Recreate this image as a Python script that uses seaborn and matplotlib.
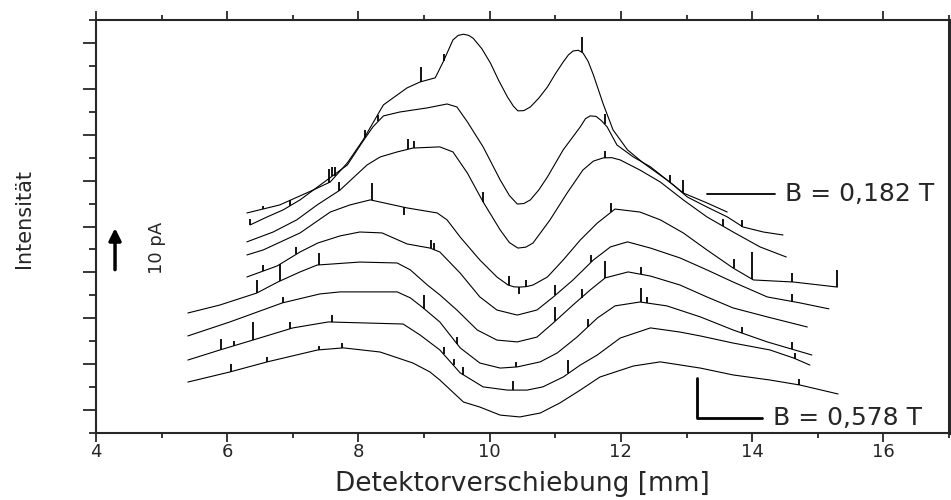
import numpy as np
import pandas as pd
import seaborn as sns
import matplotlib.pyplot as plt
from matplotlib.ticker import MultipleLocator

sns.set_style("ticks")
plt.rcParams['font.family'] = ['DejaVu Sans']

# detector scans, top (B = 0,182 T) to bottom (B = 0,578 T)
c1_x = [6.30, 6.80, 7.31, 7.57, 7.83, 8.07, 8.38, 8.74, 8.94, 9.17, 9.29, 9.44, 9.52, 9.60, 9.68, 9.75, 9.88, 10.01,
        10.14, 10.27, 10.36, 10.43, 10.52, 10.62, 10.75, 10.88, 11.00, 11.12, 11.20, 11.27, 11.35, 11.42, 11.50,
        11.58, 11.73, 11.88, 12.10, 12.34, 12.70, 12.95, 13.31, 13.62]
c1_y = [9.59, 9.94, 10.59, 10.94, 11.77, 12.77, 14.30, 15.04, 15.30, 15.48, 16.17, 17.13, 17.33, 17.38, 17.33, 17.20,
        16.75, 16.13, 15.35, 14.65, 14.25, 14.04, 14.05, 14.21, 14.60, 15.08, 15.65, 16.17, 16.48, 16.65, 16.68,
        16.57, 16.20, 15.61, 14.34, 13.21, 12.34, 11.77, 11.03, 10.46, 10.03, 9.63]

c2_x = [6.35, 6.61, 6.85, 7.11, 7.46, 7.83, 8.06, 8.22, 8.38, 8.63, 9.05, 9.35, 9.50, 9.66, 9.90, 10.16, 10.30,
        10.42, 10.52, 10.62, 10.75, 10.88, 11.12, 11.38, 11.46, 11.53, 11.62, 11.70, 11.79, 11.94, 12.19, 12.45,
        12.80, 13.01, 13.31, 13.62, 13.86, 14.17, 14.47]
c2_y = [9.07, 9.42, 9.72, 10.16, 10.90, 11.68, 12.68, 13.34, 13.82, 13.99, 14.17, 14.34, 14.21, 13.56, 12.47, 11.03,
        10.35, 9.98, 10.00, 10.16, 10.60, 11.16, 12.34, 13.34, 13.70, 13.82, 13.80, 13.62, 13.34, 12.55, 12.03, 11.60,
        10.81, 10.29, 9.85, 9.42, 8.98, 8.76, 8.63]

c3_x = [6.30, 6.70, 7.06, 7.37, 7.72, 8.13, 8.33, 8.59, 8.83, 9.24, 9.44, 9.66, 9.90, 10.16, 10.30, 10.43, 10.55,
        10.66, 10.92, 11.18, 11.42, 11.58, 11.73, 11.86, 11.99, 12.29, 12.60, 12.95, 13.31, 13.71, 14.12, 14.52]
c3_y = [8.33, 8.76, 9.29, 9.94, 10.59, 11.68, 12.03, 12.25, 12.42, 12.47, 12.25, 11.33, 10.07, 8.85, 8.30, 8.06, 8.10,
        8.28, 9.29, 10.46, 11.46, 11.85, 11.99, 12.00, 11.90, 11.46, 10.94, 10.16, 9.42, 8.76, 8.11, 7.67]

c4_x = [6.30, 6.55, 7.11, 7.57, 7.87, 8.18, 8.74, 9.20, 9.35, 9.55, 9.85, 10.11, 10.28, 10.37, 10.46, 10.56, 10.66,
        10.88, 11.12, 11.38, 11.64, 11.91, 12.29, 12.60, 12.95, 13.31, 13.71, 14.02, 14.63, 15.30]
c4_y = [7.76, 7.98, 8.72, 9.63, 9.94, 10.16, 9.81, 9.59, 9.29, 8.54, 7.54, 6.80, 6.45, 6.37, 6.36, 6.38, 6.45,
        6.80, 7.54, 8.41, 9.15, 9.76, 9.63, 9.29, 8.72, 7.98, 7.19, 6.67, 6.58, 6.36]

c5_x = [6.30, 6.76, 7.11, 7.38, 7.72, 8.02, 8.36, 8.74, 9.09, 9.24, 9.55, 9.85, 10.11, 10.42, 10.72, 10.97, 11.27,
        11.58, 11.84, 12.10, 12.45, 12.90, 13.31, 13.71, 14.23, 14.73, 15.17]
c5_y = [6.80, 7.28, 7.89, 8.28, 8.59, 8.76, 8.72, 8.24, 8.06, 7.89, 6.97, 5.93, 5.36, 5.14, 5.36, 5.93, 6.67,
        7.54, 8.11, 8.33, 8.06, 7.63, 7.11, 6.58, 5.93, 5.67, 5.41]

c6_x = [5.40, 5.89, 6.45, 6.77, 7.11, 7.37, 8.02, 8.59, 8.79, 9.05, 9.24, 9.50, 9.81, 10.11, 10.42, 10.72, 10.97,
        11.27, 11.53, 11.76, 12.11, 12.45, 12.90, 13.31, 13.71, 14.23, 14.84]
c6_y = [5.23, 5.58, 6.10, 6.58, 7.02, 7.32, 7.45, 7.41, 7.11, 6.45, 6.02, 5.36, 4.49, 4.05, 3.97, 4.18, 4.80,
        5.58, 6.23, 6.76, 7.02, 6.84, 6.45, 5.93, 5.45, 5.06, 4.62]

c7_x = [5.40, 6.04, 6.84, 7.41, 7.72, 8.59, 8.79, 8.97, 9.24, 9.55, 9.85, 10.16, 10.42, 10.77, 11.03, 11.33, 11.64,
        11.91, 12.29, 12.70, 13.21, 13.71, 14.23, 14.91]
c7_y = [4.23, 4.84, 5.67, 6.06, 6.15, 6.15, 5.89, 5.49, 4.84, 3.71, 3.05, 2.83, 2.88, 3.10, 3.49, 4.18, 5.01,
        5.54, 5.71, 5.54, 5.06, 4.49, 3.97, 3.40]

c8_x = [5.40, 5.89, 6.39, 7.00, 7.54, 8.68, 8.94, 9.24, 9.55, 9.90, 10.27, 10.57, 10.81, 11.12, 11.38, 11.64, 11.99,
        12.45, 12.90, 13.21, 13.71, 14.27, 14.63, 14.88]
c8_y = [3.18, 3.62, 4.05, 4.58, 4.84, 4.75, 4.27, 3.62, 2.62, 2.01, 1.87, 1.87, 2.01, 2.44, 2.96, 3.40, 4.14,
        4.58, 4.40, 4.23, 3.92, 3.62, 3.27, 2.96]

c9_x = [5.40, 6.04, 6.61, 7.38, 7.77, 8.33, 8.83, 9.09, 9.24, 9.60, 9.85, 10.16, 10.46, 10.77, 11.07, 11.38, 11.68,
        12.19, 12.60, 13.21, 13.71, 14.27, 14.73, 15.31]
c9_y = [2.22, 2.66, 3.10, 3.62, 3.71, 3.53, 3.05, 2.66, 2.31, 1.35, 1.13, 0.78, 0.70, 0.87, 1.31, 1.87, 2.44,
        2.92, 3.10, 2.83, 2.53, 2.31, 2.09, 1.70]

# noise spikes on each scan: position [mm] and height
spike_x = [[6.55, 7.55, 7.65, 8.1, 8.95, 9.3, 11.4, 12.95],
           [6.35, 6.95, 7.6, 8.3, 11.75, 12.75, 13.85],
           [7.7, 8.75, 8.85, 9.9, 11.75, 13.55],
           [8.2, 8.7, 10.3, 10.45, 10.55, 11.85, 13.72, 14.0, 14.6, 15.3],
           [6.55, 7.05, 9.1, 9.15, 11.0, 11.55, 14.6],
           [6.45, 6.8, 7.4, 11.0, 11.4, 11.75, 12.3],
           [6.85, 9.0, 9.5, 10.4, 11.5, 12.3, 12.4, 13.85, 14.6],
           [5.9, 6.1, 6.4, 6.95, 7.6, 9.3, 9.45, 9.6, 10.35, 11.2, 14.65],
           [6.05, 6.6, 7.4, 7.75, 14.72]]
spike_h = [[0.15, 0.6, 0.4, 0.3, 0.65, 0.3, 0.65, 0.55],
           [0.25, 0.25, 0.4, 0.3, 0.45, 0.3, 0.3],
           [0.4, 0.45, 0.3, 0.45, 0.3, 0.3],
           [0.75, -0.35, 0.4, -0.3, 0.3, 0.4, 0.4, 1.2, 0.4, 0.75],
           [0.25, 0.3, 0.35, 0.3, 0.45, 0.3, 0.3],
           [0.55, 0.75, 0.5, 0.6, 0.35, 0.75, 0.3],
           [0.25, 0.6, 0.3, 0.2, 0.35, 0.6, 0.25, 0.25, 0.3],
           [0.45, 0.2, 0.8, 0.3, 0.3, 0.3, 0.3, 0.35, 0.4, 0.6, 0.25],
           [0.35, 0.2, 0.15, 0.2, 0.25]]

curves = [(c1_x, c1_y), (c2_x, c2_y), (c3_x, c3_y), (c4_x, c4_y), (c5_x, c5_y),
          (c6_x, c6_y), (c7_x, c7_y), (c8_x, c8_y), (c9_x, c9_y)]

rows = []
for i, (xs, ys) in enumerate(curves):
    for a, b in zip(xs, ys):
        rows.append({'scan': i, 'x': a, 'y': b})
df = pd.DataFrame(rows)

fig = plt.figure(figsize=(9.51, 5.0), dpi=100)
ax = fig.add_axes([96/951, 67/500, 853/951, 413/500])

sns.lineplot(data=df, x='x', y='y', units='scan', estimator=None, sort=False,
             color='black', lw=0.8, legend=False, ax=ax)

for (xs, ys), sx, sh in zip(curves, spike_x, spike_h):
    base = np.interp(sx, xs, ys)
    ax.vlines(sx, base, base + np.array(sh), color='black', lw=1.3)

ax.set_xlim(4, 17)
ax.set_ylim(0, 18)
ax.xaxis.set_major_locator(MultipleLocator(2))
ax.xaxis.set_minor_locator(MultipleLocator(1))
ax.set_yticks(np.arange(1, 18, 2))
ax.set_yticks(np.arange(0, 19, 2), minor=True)
ax.set_yticklabels([])
ax.tick_params(axis='x', which='both', top=True, direction='out', width=1.3, labelsize=13, pad=1)
ax.tick_params(axis='x', which='major', length=6.5)
ax.tick_params(axis='x', which='minor', length=3.5)
ax.tick_params(axis='y', which='both', direction='out', width=1.3)
ax.tick_params(axis='y', which='major', length=9.5)
ax.tick_params(axis='y', which='minor', length=5)
for s in ax.spines.values():
    s.set_linewidth(1.5)
ax.spines['right'].set_linewidth(2.2)

ax.set_xlabel("Detektorverschiebung [mm]", fontsize=19, labelpad=7)
ax.set_ylabel("")

fig.text(0.025, 0.564, "Intensität", rotation=90, fontsize=15, ha='center', va='center')
fig.text(0.165, 0.504, "10 pA", rotation=90, fontsize=13, ha='center', va='center')
ax.annotate("", xy=(4.29, 9.05), xytext=(4.29, 7.0),
            arrowprops=dict(arrowstyle='-|>', color='black', lw=2.5, mutation_scale=18))

# field labels
ax.plot([13.31, 14.35], [10.42, 10.42], color='black', lw=1.3)
ax.text(14.5, 10.42, "B = 0,182 T", fontsize=18, ha='left', va='center')
ax.plot([13.16, 13.16, 14.15], [2.40, 0.65, 0.65], color='black', lw=2)
ax.text(14.32, 0.65, "B = 0,578 T", fontsize=18, ha='left', va='center')

fig.savefig("out.png", dpi=100)
